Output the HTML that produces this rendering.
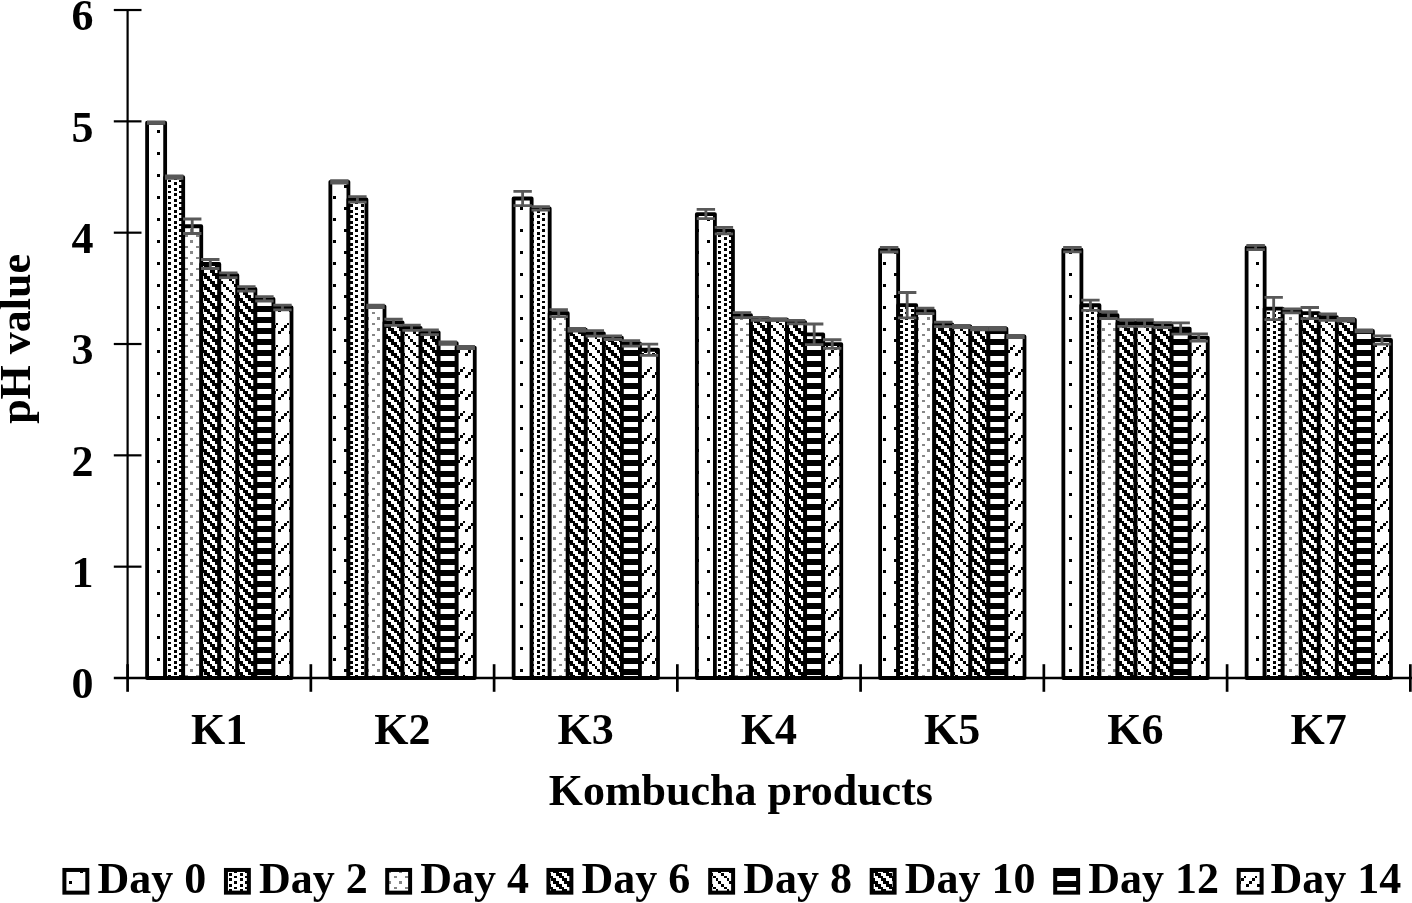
<!DOCTYPE html>
<html lang="en"><head><meta charset="utf-8"><title>pH value of Kombucha products</title>
<style>html,body{margin:0;padding:0;background:#fff}svg{display:block}</style></head>
<body>
<svg width="1412" height="903" viewBox="0 0 1412 903">
<defs><pattern id="p0" patternUnits="userSpaceOnUse" x="1" y="1" width="22" height="22"><rect width="22" height="22" fill="#fff"/><rect x="13" y="8" width="3" height="3" fill="#000"/><rect x="2" y="19" width="3" height="3" fill="#000"/></pattern><pattern id="p1" patternUnits="userSpaceOnUse" x="1" y="1" width="22" height="22"><rect width="22" height="22" fill="#fff"/><rect x="8" y="0" width="3" height="3" fill="#000"/><rect x="19" y="0" width="3" height="3" fill="#000"/><rect x="2" y="3" width="3" height="2" fill="#000"/><rect x="13" y="3" width="3" height="2" fill="#000"/><rect x="8" y="5" width="3" height="3" fill="#000"/><rect x="19" y="5" width="3" height="3" fill="#000"/><rect x="2" y="8" width="3" height="3" fill="#000"/><rect x="13" y="8" width="3" height="3" fill="#000"/><rect x="8" y="11" width="3" height="3" fill="#000"/><rect x="19" y="11" width="3" height="3" fill="#000"/><rect x="2" y="14" width="3" height="2" fill="#000"/><rect x="13" y="14" width="3" height="2" fill="#000"/><rect x="8" y="16" width="3" height="3" fill="#000"/><rect x="19" y="16" width="3" height="3" fill="#000"/><rect x="2" y="19" width="3" height="3" fill="#000"/><rect x="13" y="19" width="3" height="3" fill="#000"/></pattern><pattern id="p2" patternUnits="userSpaceOnUse" x="1" y="1" width="22" height="22"><rect width="22" height="22" fill="#fff"/><rect x="8" y="3" width="3" height="2" fill="#878787"/><rect x="19" y="3" width="3" height="2" fill="#878787"/><rect x="2" y="8" width="3" height="3" fill="#878787"/><rect x="13" y="8" width="3" height="3" fill="#878787"/><rect x="8" y="14" width="3" height="2" fill="#878787"/><rect x="19" y="14" width="3" height="2" fill="#878787"/><rect x="2" y="19" width="3" height="3" fill="#878787"/><rect x="13" y="19" width="3" height="3" fill="#878787"/></pattern><pattern id="p3" patternUnits="userSpaceOnUse" x="1" y="1" width="22" height="22"><rect width="22" height="22" fill="#fff"/><rect x="5" y="0" width="6" height="3" fill="#000"/><rect x="16" y="0" width="6" height="3" fill="#000"/><rect x="0" y="3" width="2" height="2" fill="#000"/><rect x="8" y="3" width="5" height="2" fill="#000"/><rect x="19" y="3" width="3" height="2" fill="#000"/><rect x="0" y="5" width="5" height="3" fill="#000"/><rect x="11" y="5" width="5" height="3" fill="#000"/><rect x="2" y="8" width="6" height="3" fill="#000"/><rect x="13" y="8" width="6" height="3" fill="#000"/><rect x="5" y="11" width="6" height="3" fill="#000"/><rect x="16" y="11" width="6" height="3" fill="#000"/><rect x="0" y="14" width="2" height="2" fill="#000"/><rect x="8" y="14" width="5" height="2" fill="#000"/><rect x="19" y="14" width="3" height="2" fill="#000"/><rect x="0" y="16" width="5" height="3" fill="#000"/><rect x="11" y="16" width="5" height="3" fill="#000"/><rect x="2" y="19" width="6" height="3" fill="#000"/><rect x="13" y="19" width="6" height="3" fill="#000"/></pattern><pattern id="p4" patternUnits="userSpaceOnUse" x="1" y="1" width="22" height="22"><rect width="22" height="22" fill="#fff"/><rect x="5" y="0" width="3" height="3" fill="#000"/><rect x="16" y="0" width="3" height="3" fill="#000"/><rect x="8" y="3" width="3" height="2" fill="#000"/><rect x="19" y="3" width="3" height="2" fill="#000"/><rect x="0" y="5" width="2" height="3" fill="#000"/><rect x="11" y="5" width="2" height="3" fill="#000"/><rect x="2" y="8" width="3" height="3" fill="#000"/><rect x="13" y="8" width="3" height="3" fill="#000"/><rect x="5" y="11" width="3" height="3" fill="#000"/><rect x="16" y="11" width="3" height="3" fill="#000"/><rect x="8" y="14" width="3" height="2" fill="#000"/><rect x="19" y="14" width="3" height="2" fill="#000"/><rect x="0" y="16" width="2" height="3" fill="#000"/><rect x="11" y="16" width="2" height="3" fill="#000"/><rect x="2" y="19" width="3" height="3" fill="#000"/><rect x="13" y="19" width="3" height="3" fill="#000"/></pattern><pattern id="p5" patternUnits="userSpaceOnUse" x="1" y="1" width="22" height="22"><rect width="22" height="22" fill="#fff"/><rect x="5" y="0" width="6" height="3" fill="#000"/><rect x="16" y="0" width="6" height="3" fill="#000"/><rect x="0" y="3" width="2" height="2" fill="#000"/><rect x="8" y="3" width="5" height="2" fill="#000"/><rect x="19" y="3" width="3" height="2" fill="#000"/><rect x="0" y="5" width="5" height="3" fill="#000"/><rect x="11" y="5" width="5" height="3" fill="#000"/><rect x="2" y="8" width="6" height="3" fill="#000"/><rect x="13" y="8" width="6" height="3" fill="#000"/><rect x="5" y="11" width="6" height="3" fill="#000"/><rect x="16" y="11" width="6" height="3" fill="#000"/><rect x="0" y="14" width="2" height="2" fill="#000"/><rect x="8" y="14" width="5" height="2" fill="#000"/><rect x="19" y="14" width="3" height="2" fill="#000"/><rect x="0" y="16" width="5" height="3" fill="#000"/><rect x="11" y="16" width="5" height="3" fill="#000"/><rect x="2" y="19" width="6" height="3" fill="#000"/><rect x="13" y="19" width="6" height="3" fill="#000"/></pattern><pattern id="p6" patternUnits="userSpaceOnUse" x="1" y="1" width="22" height="22"><rect width="22" height="22" fill="#fff"/><rect x="0" y="0" width="22" height="3" fill="#000"/><rect x="0" y="8" width="22" height="3" fill="#000"/><rect x="0" y="11" width="22" height="3" fill="#000"/><rect x="0" y="19" width="22" height="3" fill="#000"/></pattern><pattern id="p7" patternUnits="userSpaceOnUse" x="1" y="1" width="22" height="22"><rect width="22" height="22" fill="#fff"/><rect x="2" y="0" width="3" height="3" fill="#000"/><rect x="13" y="0" width="3" height="3" fill="#000"/><rect x="0" y="14" width="2" height="2" fill="#000"/><rect x="11" y="14" width="2" height="2" fill="#000"/><rect x="8" y="16" width="3" height="3" fill="#000"/><rect x="19" y="16" width="3" height="3" fill="#000"/><rect x="5" y="19" width="3" height="3" fill="#000"/><rect x="16" y="19" width="3" height="3" fill="#000"/></pattern><pattern id="q0" patternUnits="userSpaceOnUse" x="1" y="4" width="22" height="22"><rect width="22" height="22" fill="#fff"/><rect x="13" y="8" width="3" height="3" fill="#000"/><rect x="2" y="19" width="3" height="3" fill="#000"/></pattern><pattern id="q1" patternUnits="userSpaceOnUse" x="1" y="4" width="22" height="22"><rect width="22" height="22" fill="#fff"/><rect x="8" y="0" width="3" height="3" fill="#000"/><rect x="19" y="0" width="3" height="3" fill="#000"/><rect x="2" y="3" width="3" height="2" fill="#000"/><rect x="13" y="3" width="3" height="2" fill="#000"/><rect x="8" y="5" width="3" height="3" fill="#000"/><rect x="19" y="5" width="3" height="3" fill="#000"/><rect x="2" y="8" width="3" height="3" fill="#000"/><rect x="13" y="8" width="3" height="3" fill="#000"/><rect x="8" y="11" width="3" height="3" fill="#000"/><rect x="19" y="11" width="3" height="3" fill="#000"/><rect x="2" y="14" width="3" height="2" fill="#000"/><rect x="13" y="14" width="3" height="2" fill="#000"/><rect x="8" y="16" width="3" height="3" fill="#000"/><rect x="19" y="16" width="3" height="3" fill="#000"/><rect x="2" y="19" width="3" height="3" fill="#000"/><rect x="13" y="19" width="3" height="3" fill="#000"/></pattern><pattern id="q2" patternUnits="userSpaceOnUse" x="1" y="4" width="22" height="22"><rect width="22" height="22" fill="#fff"/><rect x="8" y="3" width="3" height="2" fill="#878787"/><rect x="19" y="3" width="3" height="2" fill="#878787"/><rect x="2" y="8" width="3" height="3" fill="#878787"/><rect x="13" y="8" width="3" height="3" fill="#878787"/><rect x="8" y="14" width="3" height="2" fill="#878787"/><rect x="19" y="14" width="3" height="2" fill="#878787"/><rect x="2" y="19" width="3" height="3" fill="#878787"/><rect x="13" y="19" width="3" height="3" fill="#878787"/></pattern><pattern id="q3" patternUnits="userSpaceOnUse" x="1" y="4" width="22" height="22"><rect width="22" height="22" fill="#fff"/><rect x="5" y="0" width="6" height="3" fill="#000"/><rect x="16" y="0" width="6" height="3" fill="#000"/><rect x="0" y="3" width="2" height="2" fill="#000"/><rect x="8" y="3" width="5" height="2" fill="#000"/><rect x="19" y="3" width="3" height="2" fill="#000"/><rect x="0" y="5" width="5" height="3" fill="#000"/><rect x="11" y="5" width="5" height="3" fill="#000"/><rect x="2" y="8" width="6" height="3" fill="#000"/><rect x="13" y="8" width="6" height="3" fill="#000"/><rect x="5" y="11" width="6" height="3" fill="#000"/><rect x="16" y="11" width="6" height="3" fill="#000"/><rect x="0" y="14" width="2" height="2" fill="#000"/><rect x="8" y="14" width="5" height="2" fill="#000"/><rect x="19" y="14" width="3" height="2" fill="#000"/><rect x="0" y="16" width="5" height="3" fill="#000"/><rect x="11" y="16" width="5" height="3" fill="#000"/><rect x="2" y="19" width="6" height="3" fill="#000"/><rect x="13" y="19" width="6" height="3" fill="#000"/></pattern><pattern id="q4" patternUnits="userSpaceOnUse" x="1" y="4" width="22" height="22"><rect width="22" height="22" fill="#fff"/><rect x="5" y="0" width="3" height="3" fill="#000"/><rect x="16" y="0" width="3" height="3" fill="#000"/><rect x="8" y="3" width="3" height="2" fill="#000"/><rect x="19" y="3" width="3" height="2" fill="#000"/><rect x="0" y="5" width="2" height="3" fill="#000"/><rect x="11" y="5" width="2" height="3" fill="#000"/><rect x="2" y="8" width="3" height="3" fill="#000"/><rect x="13" y="8" width="3" height="3" fill="#000"/><rect x="5" y="11" width="3" height="3" fill="#000"/><rect x="16" y="11" width="3" height="3" fill="#000"/><rect x="8" y="14" width="3" height="2" fill="#000"/><rect x="19" y="14" width="3" height="2" fill="#000"/><rect x="0" y="16" width="2" height="3" fill="#000"/><rect x="11" y="16" width="2" height="3" fill="#000"/><rect x="2" y="19" width="3" height="3" fill="#000"/><rect x="13" y="19" width="3" height="3" fill="#000"/></pattern><pattern id="q5" patternUnits="userSpaceOnUse" x="1" y="4" width="22" height="22"><rect width="22" height="22" fill="#fff"/><rect x="5" y="0" width="6" height="3" fill="#000"/><rect x="16" y="0" width="6" height="3" fill="#000"/><rect x="0" y="3" width="2" height="2" fill="#000"/><rect x="8" y="3" width="5" height="2" fill="#000"/><rect x="19" y="3" width="3" height="2" fill="#000"/><rect x="0" y="5" width="5" height="3" fill="#000"/><rect x="11" y="5" width="5" height="3" fill="#000"/><rect x="2" y="8" width="6" height="3" fill="#000"/><rect x="13" y="8" width="6" height="3" fill="#000"/><rect x="5" y="11" width="6" height="3" fill="#000"/><rect x="16" y="11" width="6" height="3" fill="#000"/><rect x="0" y="14" width="2" height="2" fill="#000"/><rect x="8" y="14" width="5" height="2" fill="#000"/><rect x="19" y="14" width="3" height="2" fill="#000"/><rect x="0" y="16" width="5" height="3" fill="#000"/><rect x="11" y="16" width="5" height="3" fill="#000"/><rect x="2" y="19" width="6" height="3" fill="#000"/><rect x="13" y="19" width="6" height="3" fill="#000"/></pattern><pattern id="q6" patternUnits="userSpaceOnUse" x="1" y="4" width="22" height="22"><rect width="22" height="22" fill="#fff"/><rect x="0" y="0" width="22" height="3" fill="#000"/><rect x="0" y="8" width="22" height="3" fill="#000"/><rect x="0" y="11" width="22" height="3" fill="#000"/><rect x="0" y="19" width="22" height="3" fill="#000"/></pattern><pattern id="q7" patternUnits="userSpaceOnUse" x="1" y="4" width="22" height="22"><rect width="22" height="22" fill="#fff"/><rect x="2" y="0" width="3" height="3" fill="#000"/><rect x="13" y="0" width="3" height="3" fill="#000"/><rect x="0" y="14" width="2" height="2" fill="#000"/><rect x="11" y="14" width="2" height="2" fill="#000"/><rect x="8" y="16" width="3" height="3" fill="#000"/><rect x="19" y="16" width="3" height="3" fill="#000"/><rect x="5" y="19" width="3" height="3" fill="#000"/><rect x="16" y="19" width="3" height="3" fill="#000"/></pattern></defs>
<rect width="1412" height="903" fill="#fff"/>
<g stroke="#000" stroke-width="2.2" fill="none">
<line x1="127.6" y1="9" x2="127.6" y2="678.0"/>
<line x1="113.8" y1="677.9" x2="1412" y2="677.9" stroke-width="2.5"/>
<line x1="113.8" y1="566.67" x2="141.5" y2="566.67"/>
<line x1="113.8" y1="455.34" x2="141.5" y2="455.34"/>
<line x1="113.8" y1="344.01" x2="141.5" y2="344.01"/>
<line x1="113.8" y1="232.68" x2="141.5" y2="232.68"/>
<line x1="113.8" y1="121.35" x2="141.5" y2="121.35"/>
<line x1="113.8" y1="10.02" x2="141.5" y2="10.02"/>
</g>
<g stroke="#000" stroke-width="2.7" fill="none">
<line x1="127.6" y1="664.2" x2="127.6" y2="691.8"/>
<line x1="310.85" y1="664.2" x2="310.85" y2="691.8"/>
<line x1="494.1" y1="664.2" x2="494.1" y2="691.8"/>
<line x1="677.35" y1="664.2" x2="677.35" y2="691.8"/>
<line x1="860.6" y1="664.2" x2="860.6" y2="691.8"/>
<line x1="1043.85" y1="664.2" x2="1043.85" y2="691.8"/>
<line x1="1227.1" y1="664.2" x2="1227.1" y2="691.8"/>
<line x1="1410.35" y1="664.2" x2="1410.35" y2="691.8"/>
</g>
<g stroke="#000" stroke-width="3.8" stroke-linejoin="round" shape-rendering="auto">
<rect x="147.1" y="122.75" width="18.05" height="555.25" fill="url(#p0)"/>
<rect x="165.15" y="177.15" width="18.05" height="500.85" fill="url(#p1)"/>
<rect x="183.2" y="226.25" width="18.05" height="451.75" fill="url(#p2)"/>
<rect x="201.25" y="264" width="18.05" height="414" fill="url(#p3)"/>
<rect x="219.3" y="275.25" width="18.05" height="402.75" fill="url(#p4)"/>
<rect x="237.35" y="288.9" width="18.05" height="389.1" fill="url(#p5)"/>
<rect x="255.4" y="298.8" width="18.05" height="379.2" fill="url(#p6)"/>
<rect x="273.45" y="307.52" width="18.05" height="370.48" fill="url(#p7)"/>
<rect x="330.35" y="181.85" width="18.05" height="496.15" fill="url(#p0)"/>
<rect x="348.4" y="199.4" width="18.05" height="478.6" fill="url(#p1)"/>
<rect x="366.45" y="306.35" width="18.05" height="371.65" fill="url(#p2)"/>
<rect x="384.5" y="322.3" width="18.05" height="355.7" fill="url(#p3)"/>
<rect x="402.55" y="327.8" width="18.05" height="350.2" fill="url(#p4)"/>
<rect x="420.6" y="332.3" width="18.05" height="345.7" fill="url(#p5)"/>
<rect x="438.65" y="343.1" width="18.05" height="334.9" fill="url(#p6)"/>
<rect x="456.7" y="347.55" width="18.05" height="330.45" fill="url(#p7)"/>
<rect x="513.6" y="198.5" width="18.05" height="479.5" fill="url(#p0)"/>
<rect x="531.65" y="208.45" width="18.05" height="469.55" fill="url(#p1)"/>
<rect x="549.7" y="313.15" width="18.05" height="364.85" fill="url(#p2)"/>
<rect x="567.75" y="329.75" width="18.05" height="348.25" fill="url(#p3)"/>
<rect x="585.8" y="333.35" width="18.05" height="344.65" fill="url(#p4)"/>
<rect x="603.85" y="337.65" width="18.05" height="340.35" fill="url(#p5)"/>
<rect x="621.9" y="343.35" width="18.05" height="334.65" fill="url(#p6)"/>
<rect x="639.95" y="349.75" width="18.05" height="328.25" fill="url(#p7)"/>
<rect x="696.85" y="214.05" width="18.05" height="463.95" fill="url(#p0)"/>
<rect x="714.9" y="230.6" width="18.05" height="447.4" fill="url(#p1)"/>
<rect x="732.95" y="315.15" width="18.05" height="362.85" fill="url(#p2)"/>
<rect x="751" y="318.85" width="18.05" height="359.15" fill="url(#p3)"/>
<rect x="769.05" y="319.65" width="18.05" height="358.35" fill="url(#p4)"/>
<rect x="787.1" y="322.1" width="18.05" height="355.9" fill="url(#p5)"/>
<rect x="805.15" y="334.35" width="18.05" height="343.65" fill="url(#p6)"/>
<rect x="823.2" y="344.07" width="18.05" height="333.93" fill="url(#p7)"/>
<rect x="880.1" y="249.65" width="18.05" height="428.35" fill="url(#p0)"/>
<rect x="898.15" y="305.15" width="18.05" height="372.85" fill="url(#p1)"/>
<rect x="916.2" y="310.9" width="18.05" height="367.1" fill="url(#p2)"/>
<rect x="934.25" y="324.4" width="18.05" height="353.6" fill="url(#p3)"/>
<rect x="952.3" y="326.5" width="18.05" height="351.5" fill="url(#p4)"/>
<rect x="970.35" y="328.67" width="18.05" height="349.33" fill="url(#p5)"/>
<rect x="988.4" y="328.67" width="18.05" height="349.33" fill="url(#p6)"/>
<rect x="1006.45" y="336.4" width="18.05" height="341.6" fill="url(#p7)"/>
<g transform="translate(-1 0)">
<rect x="1064.35" y="249.68" width="18.05" height="428.32" fill="url(#p0)"/>
<rect x="1082.4" y="305.25" width="18.05" height="372.75" fill="url(#p1)"/>
<rect x="1100.45" y="315.1" width="18.05" height="362.9" fill="url(#p2)"/>
<rect x="1118.5" y="323.05" width="18.05" height="354.95" fill="url(#p3)"/>
<rect x="1136.55" y="323.05" width="18.05" height="354.95" fill="url(#p4)"/>
<rect x="1154.6" y="325.05" width="18.05" height="352.95" fill="url(#p5)"/>
<rect x="1172.65" y="328.55" width="18.05" height="349.45" fill="url(#p6)"/>
<rect x="1190.7" y="337.55" width="18.05" height="340.45" fill="url(#p7)"/>
</g>
<g transform="translate(-1 0)">
<rect x="1247.6" y="247.45" width="18.05" height="430.55" fill="url(#p0)"/>
<rect x="1265.65" y="308.55" width="18.05" height="369.45" fill="url(#p1)"/>
<rect x="1283.7" y="310.85" width="18.05" height="367.15" fill="url(#p2)"/>
<rect x="1301.75" y="313.05" width="18.05" height="364.95" fill="url(#p3)"/>
<rect x="1319.8" y="317.05" width="18.05" height="360.95" fill="url(#p4)"/>
<rect x="1337.85" y="319.75" width="18.05" height="358.25" fill="url(#p5)"/>
<rect x="1355.9" y="330.9" width="18.05" height="347.1" fill="url(#p6)"/>
<rect x="1373.95" y="340" width="18.05" height="338" fill="url(#p7)"/>
</g>
</g>
<g stroke="#595959" stroke-width="2.8" fill="none">
<path d="M146.93 122.05H165.32M146.93 123.45H165.32M156.12 122.05V123.45"/>
<path d="M164.98 175.85H183.38M164.98 178.45H183.38M174.18 175.85V178.45"/>
<path d="M183.03 219H201.42M183.03 233.5H201.42M192.22 219V233.5"/>
<path d="M201.08 259.5H219.47M201.08 268.5H219.47M210.28 259.5V268.5"/>
<path d="M219.13 272.9H237.53M219.13 277.6H237.53M228.33 272.9V277.6"/>
<path d="M237.18 286.7H255.57M237.18 291.1H255.57M246.38 286.7V291.1"/>
<path d="M255.23 296.6H273.62M255.23 301H273.62M264.43 296.6V301"/>
<path d="M273.27 305.2H291.67M273.27 309.85H291.67M282.47 305.2V309.85"/>
<path d="M330.18 180.6H348.57M330.18 183.1H348.57M339.38 180.6V183.1"/>
<path d="M348.23 196.6H366.62M348.23 202.2H366.62M357.43 196.6V202.2"/>
<path d="M366.28 305.2H384.68M366.28 307.5H384.68M375.48 305.2V307.5"/>
<path d="M384.32 319.2H402.72M384.32 325.4H402.72M393.52 319.2V325.4"/>
<path d="M402.38 325.2H420.77M402.38 330.4H420.77M411.57 325.2V330.4"/>
<path d="M420.43 330H438.82M420.43 334.6H438.82M429.62 330V334.6"/>
<path d="M438.48 341.8H456.88M438.48 344.4H456.88M447.68 341.8V344.4"/>
<path d="M456.53 346.5H474.93M456.53 348.6H474.93M465.73 346.5V348.6"/>
<path d="M513.42 191.3H531.83M513.42 205.7H531.83M522.62 191.3V205.7"/>
<path d="M531.47 206.7H549.88M531.47 210.2H549.88M540.67 206.7V210.2"/>
<path d="M549.52 309.7H567.93M549.52 316.6H567.93M558.73 309.7V316.6"/>
<path d="M567.57 328.5H585.98M567.57 331H585.98M576.77 328.5V331"/>
<path d="M585.62 330.6H604.03M585.62 336.1H604.03M594.83 330.6V336.1"/>
<path d="M603.67 335.8H622.08M603.67 339.5H622.08M612.88 335.8V339.5"/>
<path d="M621.73 340.6H640.13M621.73 346.1H640.13M630.93 340.6V346.1"/>
<path d="M639.77 344.1H658.18M639.77 355.4H658.18M648.98 344.1V355.4"/>
<path d="M696.67 209.4H715.08M696.67 218.7H715.08M705.88 209.4V218.7"/>
<path d="M714.72 227.3H733.12M714.72 233.9H733.12M723.92 227.3V233.9"/>
<path d="M732.77 312.6H751.18M732.77 317.7H751.18M741.98 312.6V317.7"/>
<path d="M750.82 317.4H769.23M750.82 320.3H769.23M760.02 317.4V320.3"/>
<path d="M768.88 319H787.28M768.88 320.3H787.28M778.08 319V320.3"/>
<path d="M786.92 320.4H805.33M786.92 323.8H805.33M796.12 320.4V323.8"/>
<path d="M804.98 324H823.38M804.98 344.7H823.38M814.18 324V344.7"/>
<path d="M823.02 339.75H841.43M823.02 348.4H841.43M832.23 339.75V348.4"/>
<path d="M879.92 247.3H898.33M879.92 252H898.33M889.12 247.3V252"/>
<path d="M897.97 292.5H916.38M897.97 317.8H916.38M907.17 292.5V317.8"/>
<path d="M916.02 308.1H934.43M916.02 313.7H934.43M925.23 308.1V313.7"/>
<path d="M934.07 322.2H952.48M934.07 326.6H952.48M943.27 322.2V326.6"/>
<path d="M952.12 325.4H970.53M952.12 327.6H970.53M961.33 325.4V327.6"/>
<path d="M970.17 327.4H988.58M970.17 329.95H988.58M979.38 327.4V329.95"/>
<path d="M988.23 327.4H1006.63M988.23 329.95H1006.63M997.43 327.4V329.95"/>
<path d="M1006.27 335.3H1024.67M1006.27 337.5H1024.67M1015.48 335.3V337.5"/>
<path d="M1063.17 247.5H1081.58M1063.17 251.85H1081.58M1072.38 247.5V251.85"/>
<path d="M1081.22 300.1H1099.62M1081.22 310.4H1099.62M1090.42 300.1V310.4"/>
<path d="M1099.27 311.7H1117.67M1099.27 318.5H1117.67M1108.47 311.7V318.5"/>
<path d="M1117.33 319.7H1135.73M1117.33 326.4H1135.73M1126.53 319.7V326.4"/>
<path d="M1135.38 319.7H1153.78M1135.38 326.4H1153.78M1144.58 319.7V326.4"/>
<path d="M1153.42 322.6H1171.83M1153.42 327.5H1171.83M1162.62 322.6V327.5"/>
<path d="M1171.47 322.9H1189.88M1171.47 334.2H1189.88M1180.67 322.9V334.2"/>
<path d="M1189.52 333.9H1207.92M1189.52 341.2H1207.92M1198.72 333.9V341.2"/>
<path d="M1246.42 245.3H1264.83M1246.42 249.6H1264.83M1255.62 245.3V249.6"/>
<path d="M1264.47 297.4H1282.88M1264.47 319.7H1282.88M1273.67 297.4V319.7"/>
<path d="M1282.52 308.8H1300.92M1282.52 312.9H1300.92M1291.72 308.8V312.9"/>
<path d="M1300.58 307.5H1318.98M1300.58 318.6H1318.98M1309.78 307.5V318.6"/>
<path d="M1318.62 313.8H1337.03M1318.62 320.3H1337.03M1327.83 313.8V320.3"/>
<path d="M1336.67 318.5H1355.08M1336.67 321H1355.08M1345.88 318.5V321"/>
<path d="M1354.72 330H1373.12M1354.72 331.8H1373.12M1363.92 330V331.8"/>
<path d="M1372.77 335.8H1391.17M1372.77 344.2H1391.17M1381.97 335.8V344.2"/>
</g>
<g font-family="'Liberation Serif', 'Times New Roman', serif" font-weight="bold" font-size="44" fill="#000">
<text x="93.5" y="698.2" text-anchor="end">0</text>
<text x="93.5" y="586.87" text-anchor="end">1</text>
<text x="93.5" y="475.54" text-anchor="end">2</text>
<text x="93.5" y="364.21" text-anchor="end">3</text>
<text x="93.5" y="252.88" text-anchor="end">4</text>
<text x="93.5" y="141.55" text-anchor="end">5</text>
<text x="93.5" y="30.22" text-anchor="end">6</text>
<text x="219.22" y="744.1" text-anchor="middle">K1</text>
<text x="402.48" y="744.1" text-anchor="middle">K2</text>
<text x="585.73" y="744.1" text-anchor="middle">K3</text>
<text x="768.98" y="744.1" text-anchor="middle">K4</text>
<text x="952.23" y="744.1" text-anchor="middle">K5</text>
<text x="1135.47" y="744.1" text-anchor="middle">K6</text>
<text x="1318.72" y="744.1" text-anchor="middle">K7</text>
<text x="740.8" y="805" text-anchor="middle">Kombucha products</text>
<text transform="translate(29.5 338.9) rotate(-90)" text-anchor="middle">pH value</text>
<rect x="64.4" y="869.95" width="22.9" height="22.7" fill="url(#q0)" stroke="#000" stroke-width="4"/>
<text x="97.5" y="892.7">Day 0</text>
<rect x="225.95" y="869.95" width="22.9" height="22.7" fill="url(#q1)" stroke="#000" stroke-width="4"/>
<text x="259.05" y="892.7">Day 2</text>
<rect x="387.2" y="869.95" width="22.9" height="22.7" fill="url(#q2)" stroke="#000" stroke-width="4"/>
<text x="420.3" y="892.7">Day 4</text>
<rect x="548.45" y="869.95" width="22.9" height="22.7" fill="url(#q3)" stroke="#000" stroke-width="4"/>
<text x="581.55" y="892.7">Day 6</text>
<rect x="710.2" y="869.95" width="22.9" height="22.7" fill="url(#q4)" stroke="#000" stroke-width="4"/>
<text x="743.3" y="892.7">Day 8</text>
<rect x="871.7" y="869.95" width="22.9" height="22.7" fill="url(#q5)" stroke="#000" stroke-width="4"/>
<text x="904.8" y="892.7">Day 10</text>
<rect x="1055.2" y="869.95" width="22.9" height="22.7" fill="url(#q6)" stroke="#000" stroke-width="4"/>
<text x="1088.3" y="892.7">Day 12</text>
<rect x="1238.7" y="869.95" width="22.9" height="22.7" fill="url(#q7)" stroke="#000" stroke-width="4"/>
<text x="1270.6" y="892.7">Day 14</text>
</g>
</svg>
</body></html>
